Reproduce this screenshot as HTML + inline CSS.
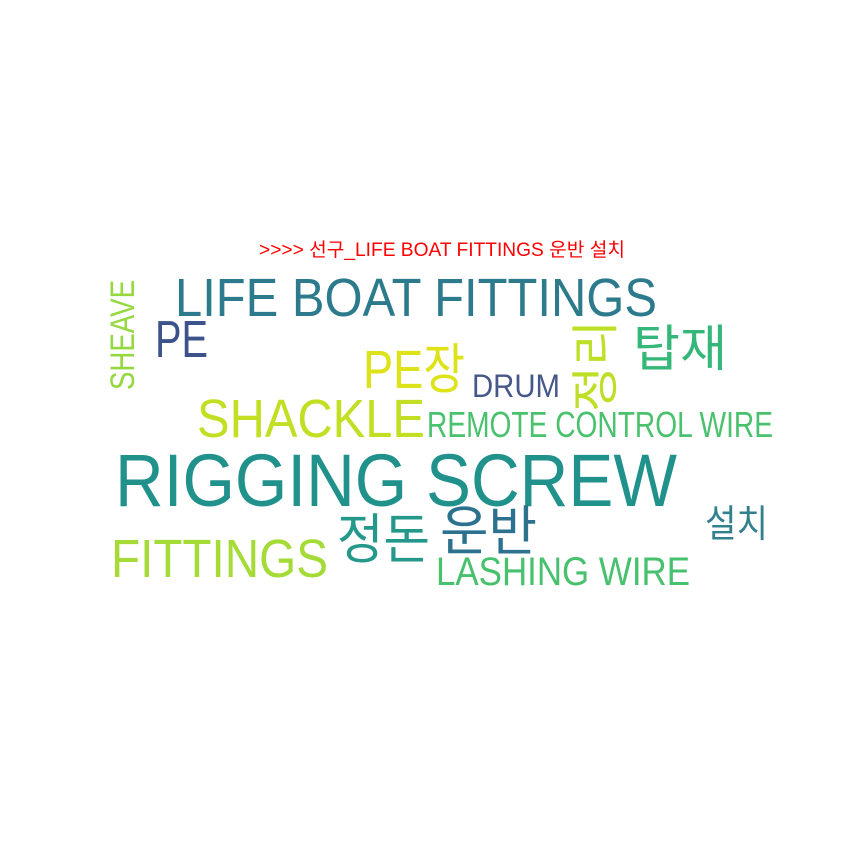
<!DOCTYPE html>
<html><head><meta charset="utf-8">
<style>
html,body{margin:0;padding:0;background:#fff;}
svg{display:block;}
text{font-family:"Liberation Sans","Noto Sans CJK KR",sans-serif;}
</style></head>
<body>
<svg width="864" height="864" viewBox="0 0 864 864">
<rect width="864" height="864" fill="#fff"/>
<text x="259" y="256" font-size="19" fill="#ff0000" textLength="366" lengthAdjust="spacingAndGlyphs">&gt;&gt;&gt;&gt; 선구_LIFE BOAT FITTINGS 운반 설치</text>
<g id="words"></g>
</svg>
<script>
const words=["LIFE BOAT FITTINGS","PE","SHEAVE","PE장","정리","탑재","DRUM","SHACKLE","REMOTE CONTROL WIRE","RIGGING SCREW","정돈","운반","설치","FITTINGS","LASHING WIRE"];
const colors=["#2c7a8c","#3b528b","#95d840","#dde318","#bddf26","#35b779","#46578a","#c2df23","#4ac16d","#21918c","#23988b","#2c728e","#33808d","#a5db36","#48c16e"];
const sizes=[54,52,34,54,48,50,32,54,36,74,54,54,38,54,40];
const layout=[[175,316,482,0],[155,357,53,0],[134,390,110,-90],[363,388,102,0],[612,412,92,-90],[633,366,94,0],[472,397,88,0],[197,437,228,0],[427,437,346,0],[115,506,562,0],[337,558,93,0],[440,550,97,0],[705,537,63,0],[111,577,217,0],[436,585,254,0]];
const g=document.getElementById('words');
const NS="http://www.w3.org/2000/svg";
words.forEach((w,i)=>{
  const [x,y,len,rot]=layout[i];
  const t=document.createElementNS(NS,'text');
  
  
  t.setAttribute('x',x);t.setAttribute('y',y);
  t.setAttribute('font-size',sizes[i]);
  t.setAttribute('fill',colors[i]);
  t.setAttribute('textLength',len);
  t.setAttribute('lengthAdjust','spacingAndGlyphs');
  if(rot) t.setAttribute('transform','rotate('+rot+' '+x+' '+y+')');
  t.textContent=w;
  g.appendChild(t);
});
</script>
</body></html>
